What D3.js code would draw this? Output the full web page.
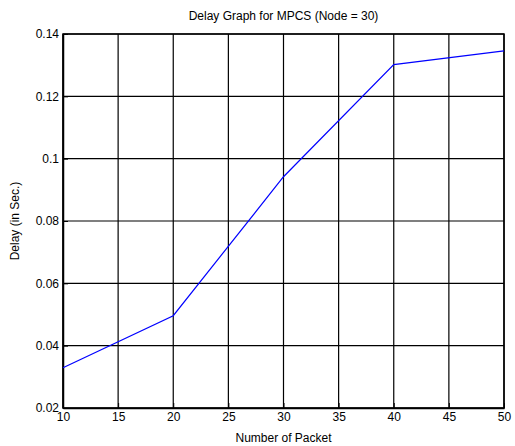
<!DOCTYPE html>
<html>
<head>
<meta charset="utf-8">
<script src="https://cdn.jsdelivr.net/npm/d3@7"></script>
<style>
  body { margin: 0; background: #fff; }
  text { font-family: "Liberation Sans", Arial, sans-serif; }
</style>
</head>
<body>
<div id="chart"></div>
<script>
// data
const packets = [10, 20, 30, 40, 50];
const delays = [0.0329, 0.0496, 0.0942, 0.1302, 0.1346];
const xTicks = [10, 15, 20, 25, 30, 35, 40, 45, 50];
const yTicks = [0.02, 0.04, 0.06, 0.08, 0.1, 0.12, 0.14];

const width = 515, height = 446;
const margin = {top: 34, right: 11, bottom: 38, left: 63};

const svg = d3.select("#chart").append("svg")
  .attr("width", width)
  .attr("height", height);

const x = d3.scaleLinear().domain([10, 50]).range([margin.left, width - margin.right]);
const y = d3.scaleLinear().domain([0.02, 0.14]).range([height - margin.bottom, margin.top]);

// grid
const grid = svg.append("g");
grid.selectAll(".vx").data(xTicks).enter().append("line")
  .attr("x1", d => x(d)).attr("x2", d => x(d))
  .attr("y1", y(0.02)).attr("y2", y(0.14))
  .attr("stroke", "#000").attr("stroke-width", 1.2);
grid.selectAll(".hy").data(yTicks).enter().append("line")
  .attr("x1", x(10)).attr("x2", x(50))
  .attr("y1", d => y(d)).attr("y2", d => y(d))
  .attr("stroke", "#000").attr("stroke-width", 1.2);

// axes (ticks inward, like matlab)
const xAxis = svg.append("g")
  .attr("transform", `translate(0,${y(0.02)})`)
  .call(d3.axisBottom(x).tickValues(xTicks).tickSizeInner(-5).tickSizeOuter(0).tickPadding(6).tickFormat(d3.format("d")));
const yAxis = svg.append("g")
  .attr("transform", `translate(${x(10)},0)`)
  .call(d3.axisLeft(y).tickValues(yTicks).tickSizeInner(-5).tickSizeOuter(0).tickPadding(4).tickFormat(d => String(+d.toFixed(2))));

[xAxis, yAxis].forEach(a => {
  a.selectAll("path").attr("stroke", "#000").attr("stroke-width", 1.5);
  a.selectAll("line").attr("stroke", "#000");
  a.selectAll("text").attr("font-size", 12).attr("fill", "#000")
    .style("font-family", "'Liberation Sans', Arial, sans-serif");
});
xAxis.selectAll("text").attr("dy", "0.55em");

// box
svg.append("rect")
  .attr("x", x(10)).attr("y", y(0.14))
  .attr("width", x(50) - x(10)).attr("height", y(0.02) - y(0.14))
  .attr("fill", "none").attr("stroke", "#000").attr("stroke-width", 1.5);

// the line
const line = d3.line().x((d, i) => x(packets[i])).y(d => y(d));
svg.append("path")
  .datum(delays)
  .attr("d", line)
  .attr("fill", "none")
  .attr("stroke", "#0000ff")
  .attr("stroke-width", 1.2);

// labels
svg.append("text")
  .attr("x", (x(10) + x(50)) / 2).attr("y", 20)
  .attr("text-anchor", "middle").attr("font-size", 12)
  .text("Delay Graph for MPCS (Node = 30)");

svg.append("text")
  .attr("x", (x(10) + x(50)) / 2).attr("y", 442)
  .attr("text-anchor", "middle").attr("font-size", 12)
  .text("Number of Packet");

svg.append("text")
  .attr("transform", `translate(19,${(y(0.02) + y(0.14)) / 2}) rotate(-90)`)
  .attr("text-anchor", "middle").attr("font-size", 12)
  .text("Delay (in Sec.)");
</script>
</body>
</html>
